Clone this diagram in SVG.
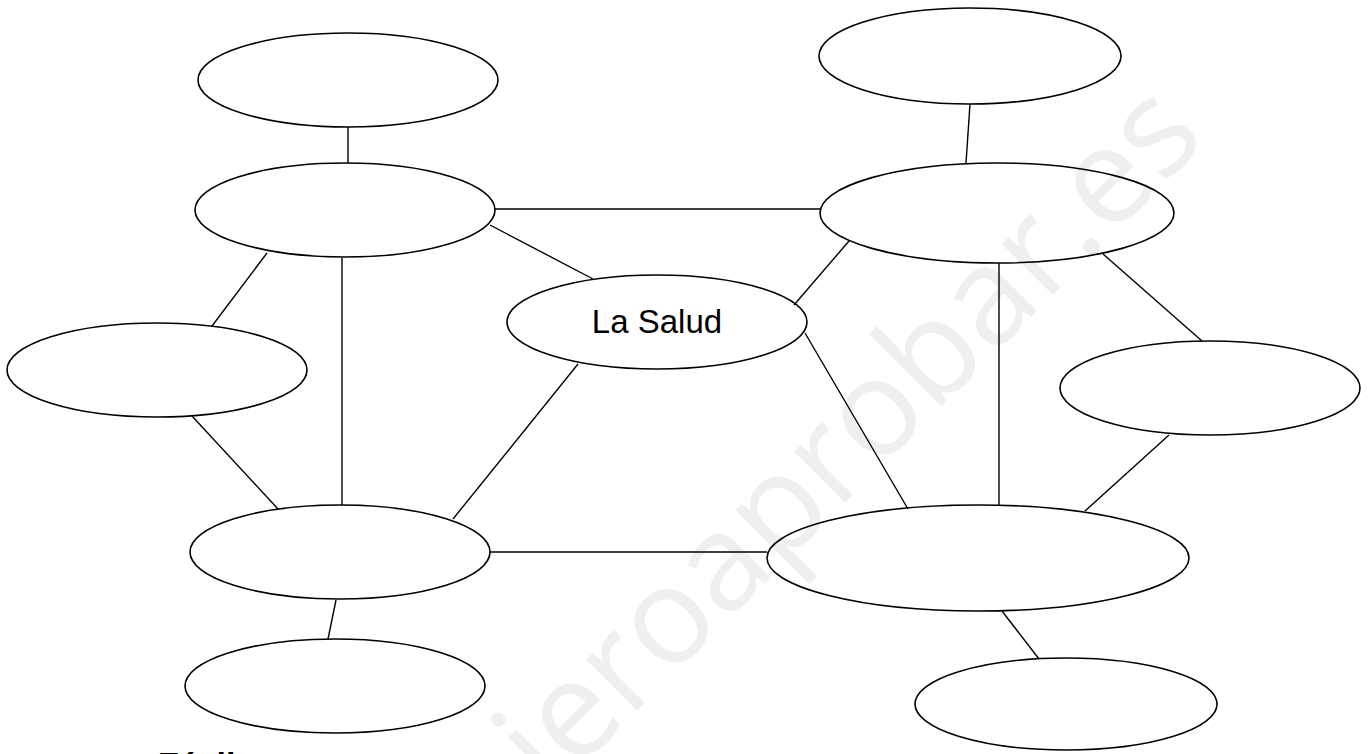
<svg xmlns="http://www.w3.org/2000/svg" width="1369" height="754" viewBox="0 0 1369 754">
<style>
.n{fill:none;stroke:#000;stroke-width:1.6}
.c line{stroke:#000;stroke-width:1.4}
.t{font-family:"Liberation Sans",Arial,sans-serif;fill:#000}
.wm{font-family:"Open Sans","Liberation Sans",sans-serif;fill:#efefef;font-size:135px}
</style>
<rect width="1369" height="754" fill="#fff"/>
<text class="wm" x="1208" y="140" text-anchor="end" transform="rotate(-45 1208 140)">quieroaprobar.es</text>
<g id="connectors" class="c">
<line x1="348" y1="127" x2="348" y2="163"/>
<line x1="494" y1="209" x2="820" y2="209"/>
<line x1="490" y1="225" x2="593" y2="279"/>
<line x1="267" y1="253" x2="212" y2="326"/>
<line x1="342" y1="258" x2="342" y2="505"/>
<line x1="192" y1="416" x2="278" y2="509"/>
<line x1="578" y1="364" x2="453" y2="519"/>
<line x1="490" y1="552" x2="767" y2="552"/>
<line x1="336" y1="600" x2="328" y2="639"/>
<line x1="970" y1="104" x2="966" y2="163"/>
<line x1="849" y1="241" x2="794" y2="305"/>
<line x1="999" y1="263" x2="999" y2="505"/>
<line x1="1103" y1="254" x2="1202" y2="341"/>
<line x1="805" y1="333" x2="908" y2="509"/>
<line x1="1169" y1="435" x2="1085" y2="511"/>
<line x1="1002" y1="611" x2="1039" y2="659"/>
</g>
<g id="n1"><ellipse class="n" cx="348" cy="80" rx="150" ry="47"/></g>
<g id="n2"><ellipse class="n" cx="345" cy="210" rx="150" ry="47"/></g>
<g id="n3"><ellipse class="n" cx="157" cy="370" rx="150" ry="47"/></g>
<g id="n4"><ellipse class="n" cx="340" cy="552" rx="150" ry="47"/></g>
<g id="n5"><ellipse class="n" cx="335" cy="686" rx="150" ry="47"/></g>
<g id="salud"><ellipse class="n" cx="657" cy="322" rx="150" ry="47"/><text class="t" x="657" y="333" font-size="33" text-anchor="middle">La Salud</text></g>
<g id="n7"><ellipse class="n" cx="970" cy="56" rx="151" ry="48"/></g>
<g id="n8"><ellipse class="n" cx="997" cy="213" rx="177" ry="50"/></g>
<g id="n9"><ellipse class="n" cx="1210" cy="388" rx="150" ry="47"/></g>
<g id="n10"><ellipse class="n" cx="978" cy="558" rx="211" ry="53"/></g>
<g id="n11"><ellipse class="n" cx="1066" cy="704" rx="151" ry="46"/></g>
<text class="t" x="158" y="776" font-size="34" font-weight="bold">Fácil</text>
</svg>
